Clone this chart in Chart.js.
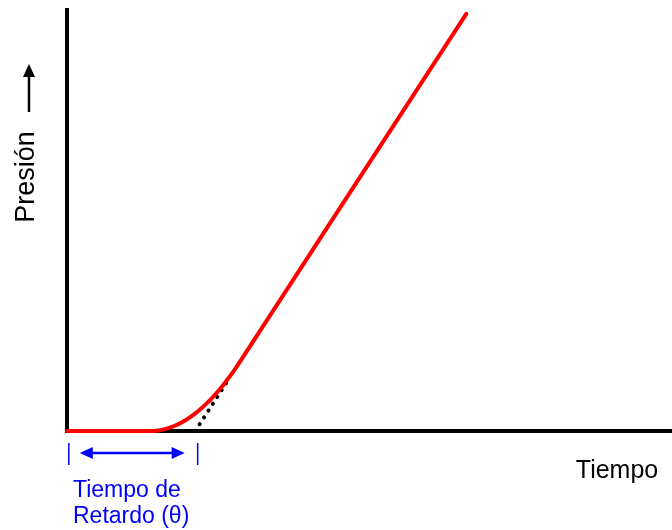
<!DOCTYPE html>
<html>
<head>
<meta charset="utf-8">
<script src="https://cdn.jsdelivr.net/npm/chart.js@4"></script>
<style>
  html, body { margin: 0; padding: 0; background: #fff; }
  #wrap { width: 672px; height: 530px; }
</style>
</head>
<body>
<div id="wrap"><canvas id="presionChart"></canvas></div>
<script>
// curva de presion (unidades arbitrarias, 0-100)
const tiempo  = [0, 13.7, 15, 16, 17, 18, 19, 20, 21, 22, 23, 24, 25, 26, 27, 28, 28.6, 66];
const presion = [0, 0, 0.13, 0.39, 0.81, 1.37, 2.09, 2.95, 3.96, 5.12, 6.43, 7.88, 9.49, 11.24, 13.14, 15.19, 16.5, 99.1];

// tangente punteada
const tiempoTangente  = [21.2, 27];
const presionTangente = [0, 12.9];

// tiempo de retardo
const retardoInicio = 0.3;
const retardoFin = 21.6;

const etiquetaX = 'Tiempo';
const etiquetaY = 'Presión';
const etiquetaRetardo = ['Tiempo de', 'Retardo (θ)'];

const ctx = document.getElementById('presionChart');

function puntos(xs, ys) {
  return xs.map((x, i) => ({ x: x, y: ys[i] }));
}

function flecha(c, x1, y1, x2, y2, largo, ancho) {
  const ang = Math.atan2(y2 - y1, x2 - x1);
  c.beginPath();
  c.moveTo(x2, y2);
  c.lineTo(x2 - largo * Math.cos(ang) + ancho * Math.sin(ang), y2 - largo * Math.sin(ang) - ancho * Math.cos(ang));
  c.lineTo(x2 - largo * Math.cos(ang) - ancho * Math.sin(ang), y2 - largo * Math.sin(ang) + ancho * Math.cos(ang));
  c.closePath();
  c.fill();
}

const anotaciones = {
  id: 'anotaciones',
  afterDraw(chart) {
    const c = chart.ctx;
    const sx = chart.scales.x;
    const sy = chart.scales.y;
    const base = sy.getPixelForValue(0);
    c.save();

    // marcas azules del retardo
    const xa = sx.getPixelForValue(retardoInicio);
    const xb = sx.getPixelForValue(retardoFin);
    c.strokeStyle = '#0000ff';
    c.fillStyle = '#0000ff';
    c.lineWidth = 1.5;
    c.beginPath();
    c.moveTo(xa, base + 12); c.lineTo(xa, base + 34);
    c.moveTo(xb, base + 12); c.lineTo(xb, base + 34);
    c.stroke();

    // flecha doble
    const ya = base + 22;
    c.lineWidth = 2.5;
    c.beginPath();
    c.moveTo(xa + 20, ya); c.lineTo(xb - 20, ya);
    c.stroke();
    flecha(c, xb - 5, ya, xa + 11, ya, 13, 6);
    flecha(c, xa + 11, ya, xb - 13, ya, 13, 6);

    // texto retardo
    c.font = '23px "Liberation Sans", Arial, sans-serif';
    c.textAlign = 'left';
    c.textBaseline = 'alphabetic';
    c.fillText(etiquetaRetardo[0], 73, base + 66);
    c.fillText(etiquetaRetardo[1], 73, base + 92);

    // etiqueta eje x
    c.fillStyle = '#000';
    c.font = '25px "Liberation Sans", Arial, sans-serif';
    c.textAlign = 'center';
    c.fillText(etiquetaX, 617, base + 47);

    // etiqueta eje y con flecha
    c.save();
    c.translate(34, 177);
    c.rotate(-Math.PI / 2);
    c.font = '27px "Liberation Sans", Arial, sans-serif';
    c.textAlign = 'center';
    c.fillText(etiquetaY, 0, 0);
    c.restore();
    c.strokeStyle = '#000';
    c.fillStyle = '#000';
    c.lineWidth = 2.5;
    c.beginPath();
    c.moveTo(29, 112); c.lineTo(29, 75);
    c.stroke();
    flecha(c, 29, 112, 29, 64, 13, 6);

    c.restore();
  }
};

new Chart(ctx, {
  type: 'scatter',
  data: {
    datasets: [{
      label: 'Presión',
      data: puntos(tiempo, presion),
      showLine: true,
      borderColor: '#ff0000',
      borderWidth: 4,
      borderCapStyle: 'round',
      borderJoinStyle: 'round',
      pointRadius: 0,
      tension: 0.3,
      clip: false,
      order: 0
    }, {
      label: 'Tangente',
      data: puntos(tiempoTangente, presionTangente),
      showLine: true,
      borderColor: '#000',
      borderWidth: 4,
      borderCapStyle: 'round',
      borderDash: [0.1, 8],
      pointRadius: 0,
      clip: false,
      order: 1
    }]
  },
  options: {
    responsive: true,
    maintainAspectRatio: false,
    animation: false,
    layout: { padding: { left: 67, right: 0, top: 10, bottom: 99 } },
    plugins: { legend: { display: false }, tooltip: { enabled: false } },
    scales: {
      x: {
        type: 'linear', min: 0, max: 100,
        grid: { display: false, drawTicks: false },
        ticks: { display: false },
        border: { display: true, color: '#000', width: 4 }
      },
      y: {
        type: 'linear', min: 0, max: 100,
        grid: { display: false, drawTicks: false },
        ticks: { display: false },
        border: { display: true, color: '#000', width: 4 }
      }
    }
  },
  plugins: [anotaciones]
});
</script>
</body>
</html>
